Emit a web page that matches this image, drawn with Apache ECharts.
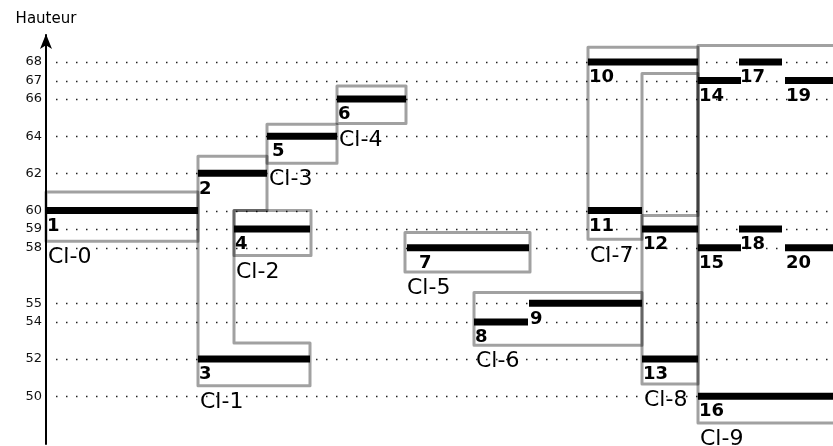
<!DOCTYPE html>
<html>
<head>
<meta charset="utf-8">
<script src="https://cdn.jsdelivr.net/npm/echarts@6/dist/echarts.min.js"></script>
<style>
html,body{margin:0;padding:0;background:#fff;}
#chart{width:833px;height:446px;}
</style>
</head>
<body>
<div id="chart"></div>
<script>
// ---- data ----
const tickValues = [50, 52, 54, 55, 58, 59, 60, 62, 64, 66, 67, 68];

const segLabels = ['1','2','3','4','5','6','7','8','9','10','11','12','13','14','15','16','17','18','19','20'];
const segStart  = [0, 152, 152, 188, 221, 291, 361, 428, 483, 542, 542, 596, 596, 652, 652, 652, 693, 693, 739, 739];
const segEnd    = [152, 221, 264, 264, 291, 360, 483, 482, 596, 652, 596, 652, 652, 695, 695, 787, 736, 736, 787, 787];
const segHeight = [60, 62, 52, 59, 64, 66, 58, 54, 55, 68, 60, 59, 52, 67, 58, 50, 68, 59, 67, 58];

const clusterNames = ['Cl-0','Cl-1','Cl-2','Cl-3','Cl-4','Cl-5','Cl-6','Cl-7','Cl-8','Cl-9'];
const clusterOutlines = [
  [[0,61.0],[152,61.0],[152,58.35],[0,58.35]],
  [[152,62.92],[221,62.92],[221,60.0],[188,60.0],[188,52.86],[264,52.86],[264,50.56],[152,50.56]],
  [[188,60.0],[265,60.0],[265,57.58],[188,57.58]],
  [[221,64.64],[291,64.64],[291,62.55],[221,62.55]],
  [[291,66.71],[360,66.71],[360,64.69],[291,64.69]],
  [[359,58.82],[484,58.82],[484,56.69],[359,56.69]],
  [[428,55.58],[596,55.58],[596,52.75],[428,52.75]],
  [[542,68.79],[652,68.79],[652,59.73],[596,59.73],[596,58.45],[542,58.45]],
  [[596,67.38],[652,67.38],[652,50.66],[596,50.66]],
  [[652,68.88],[800,68.88],[800,48.56],[652,48.56]]
];

// ---- chart ----
const FONT = '"DejaVu Sans", sans-serif';
const xMin = 0, xMax = 787;
const labelNudge = { '5': 4, '7': 11 };

const chart = echarts.init(document.getElementById('chart'), null, { renderer: 'canvas' });

const option = {
  animation: false,
  backgroundColor: '#fff',
  grid: { left: 46, right: 0, top: 35, bottom: 2, containLabel: false },
  xAxis: { type: 'value', min: xMin, max: xMax, show: false },
  yAxis: {
    type: 'value',
    min: 47.426,
    max: 69.451,
    name: 'Hauteur',
    nameLocation: 'end',
    nameGap: 8,
    nameTextStyle: { fontFamily: FONT, fontSize: 15, color: '#000' },
    axisLine: {
      show: true, onZero: false,
      symbol: ['none', 'arrow'],
      symbolSize: [9, 15],
      symbolOffset: [0, 1],
      lineStyle: { color: '#000', width: 2 }
    },
    axisTick: { show: false },
    splitLine: { show: false },
    axisLabel: {
      customValues: tickValues,
      fontFamily: FONT, fontSize: 13, color: '#111', margin: 4
    }
  },
  series: [
    {
      type: 'custom', name: 'gridlines', silent: true, z: 1,
      data: tickValues.map(v => [xMin, v]),
      encode: { x: 0, y: 1 },
      renderItem: function (params, api) {
        const v = api.value(1);
        const a = api.coord([xMin, v]);
        const b = api.coord([xMax, v]);
        return {
          type: 'line',
          shape: { x1: a[0] + 2, y1: Math.round(a[1]) + 0.5, x2: b[0], y2: Math.round(b[1]) + 0.5 },
          style: { stroke: '#222', lineWidth: 1.5, lineDash: [1.5, 8.5], lineDashOffset: 2 }
        };
      }
    },
    {
      type: 'custom', name: 'clusters', silent: true, z: 2,
      data: clusterOutlines.map(p => [p[0][0], p[0][1]]),
      encode: { x: 0, y: 1 },
      renderItem: function (params, api) {
        const pts = clusterOutlines[params.dataIndex];
        const px = pts.map(p => api.coord(p));
        let minX = Infinity, maxY = -Infinity;
        px.forEach(p => { if (p[0] < minX) minX = p[0]; if (p[1] > maxY) maxY = p[1]; });
        return {
          type: 'group',
          children: [
            {
              type: 'polygon',
              shape: { points: px },
              style: { fill: 'none', stroke: 'rgba(0,0,0,0.37)', lineWidth: 3, lineJoin: 'round' }
            },
            {
              type: 'text',
              style: {
                text: clusterNames[params.dataIndex],
                x: minX + 2, y: maxY + 5.5,
                fill: '#000', fontFamily: FONT, fontSize: 22,
                align: 'left', verticalAlign: 'top'
              }
            }
          ]
        };
      }
    },
    {
      type: 'custom', name: 'segments', silent: true, z: 3,
      data: segLabels.map((l, i) => [segStart[i], segEnd[i], segHeight[i]]),
      encode: { x: [0, 1], y: 2 },
      renderItem: function (params, api) {
        const s = api.coord([api.value(0), api.value(2)]);
        const e = api.coord([api.value(1), api.value(2)]);
        const lab = segLabels[params.dataIndex];
        const h = 7;
        return {
          type: 'group',
          children: [
            {
              type: 'rect',
              shape: { x: s[0], y: s[1] - h / 2, width: e[0] - s[0], height: h },
              style: { fill: '#000' }
            },
            {
              type: 'text',
              style: {
                text: lab,
                x: s[0] + 1 + (labelNudge[lab] || 0), y: s[1] + 6.5,
                fill: '#000', fontFamily: FONT, fontSize: 18, fontWeight: 'bold',
                align: 'left', verticalAlign: 'top'
              }
            }
          ]
        };
      }
    }
  ]
};

chart.setOption(option);
</script>
</body>
</html>
